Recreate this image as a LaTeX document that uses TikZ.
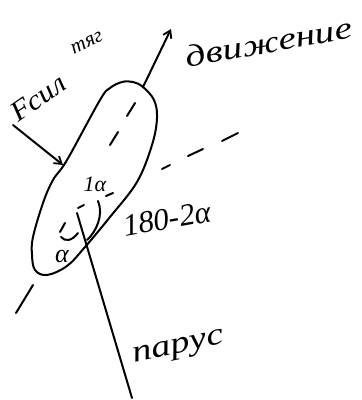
\documentclass[tikz,border=0pt]{standalone}
\usepackage{fontspec}
\setmainfont{Liberation Serif}
\usetikzlibrary{arrows.meta}
\begin{document}
\begin{tikzpicture}[x=1pt,y=-1pt,
  ink/.style={line width=2pt, line cap=round, line join=round},
  lbl/.style={inner sep=0pt, font=\itshape\fontsize{26}{26}\selectfont},
  tip/.style={-{Straight Barb[length=7pt,width=9pt,line width=1.8pt]}}]
\useasboundingbox (0,0) rectangle (362,400);
% hull
\draw[ink] plot[smooth cycle, tension=0.6] coordinates {
 (143,87) (154,100) (157,118) (152,145) (137,182) (110,217) (85,247)
 (67,266) (47,275) (35,270) (32,255) (33,237) (43,203) (53,180)
 (67,160) (100,100) (110,88) (122,82) (133,82)};
% named points
\coordinate (top) at (143,87);
\coordinate (mot) at (171,29);
\coordinate (fs) at (13,125);
\coordinate (fe) at (63,165);
\coordinate (s1) at (77,213);
\coordinate (s2) at (132,398);
% motion arrow
\draw[ink,tip] (top) -- (mot);
% force arrow
\draw[ink,tip] (fs) -- (fe);
% sail
\draw[ink] (s1) -- (s2);
% axis dashes
\draw[ink] (135,103) -- (127,116);
\draw[ink] (118,132) -- (110,145);
\draw[ink] (65,223) -- (60,232);
\draw[ink] (33,285) -- (16,313);
% second dashed line
\draw[ink] (238,133) -- (222,141);
\draw[ink] (203,149) -- (188,156);
\draw[ink] (170,165) -- (162,169);
\draw[ink] (113,193) -- (106,196);
\draw[ink] (84,205) -- (78,208);
% angle arcs
\draw[ink] (98,201) .. controls (104,215) and (96,232) .. (87,240);
\draw[ink] (61,237) .. controls (65,242) and (72,241) .. (78,233);
% labels
\node[lbl, font=\itshape\fontsize{31}{31}\selectfont, rotate=10, xscale=1.28] (dv) at (269,42) {движение};
\node[lbl, font=\itshape\fontsize{28}{28}\selectfont, rotate=35, xscale=1.1] (fsil) at (38,98) {Fсил};
\node[lbl, font=\itshape\fontsize{21}{21}\selectfont, rotate=25] (tyag) at (87,43) {тяг};
\node[lbl, font=\itshape\fontsize{22}{22}\selectfont] (a1) at (95,184) {1α};
\node[lbl, font=\itshape\fontsize{31}{31}\selectfont, rotate=10] (ang) at (167,219) {180-2α};
\node[lbl, font=\itshape\fontsize{26}{26}\selectfont] (a2) at (62,256) {α};
\node[lbl, font=\itshape\fontsize{31}{31}\selectfont, rotate=12, xscale=1.25] (par) at (179,349) {парус};
\end{tikzpicture}
\end{document}
